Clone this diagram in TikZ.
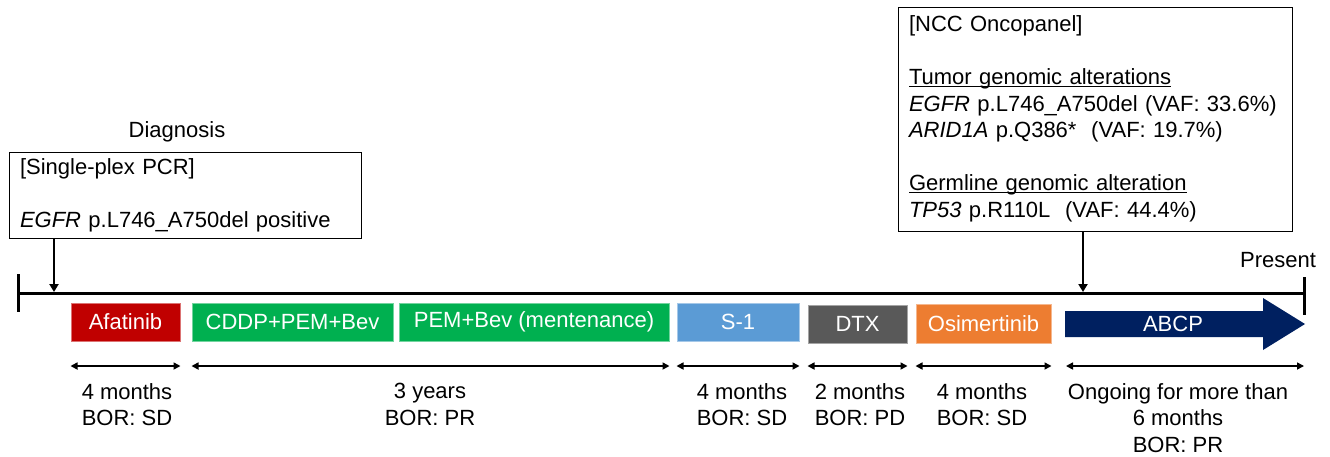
\documentclass[tikz,border=0pt]{standalone}
\usepackage{fontspec}
\setmainfont{Liberation Sans}
\usetikzlibrary{arrows.meta}
\definecolor{afared}{HTML}{C00000}
\definecolor{chemogreen}{HTML}{00B050}
\definecolor{soneblue}{HTML}{5B9BD5}
\definecolor{dtxgray}{HTML}{595959}
\definecolor{osiorange}{HTML}{ED7D31}
\definecolor{abcpnavy}{HTML}{002060}

\begin{document}
\begin{tikzpicture}[x=1pt,y=-1pt,
	every node/.append style={font=\fontsize{22}{26.5}\selectfont},
	therapy/.style={fill=#1,draw=#1!55!white,line width=1pt,text=white,minimum height=38pt,inner sep=0pt},
	infobox/.style={draw,line width=1pt,align=left,inner xsep=11pt,inner ysep=0pt},
	down/.style={line width=2pt,-{Triangle[length=8pt,width=9pt]}},
	span/.style={line width=1.6pt,{Triangle[length=7pt,width=7pt]}-{Triangle[length=7pt,width=7pt]}},
	note/.style={align=center,anchor=north,inner sep=0pt}]
		\useasboundingbox (0,0) rectangle (1330,456);
		\coordinate (start) at (18,293);
		\coordinate (now) at (1304,293);
		\draw[line width=3pt] (start) -- (now);
		\draw[line width=3pt] (18,274) -- (18,312);
		\draw[line width=3pt] (1304,277) -- (1304,315);
		\node (diag) at (177,132) {Diagnosis};
		\node (present) at (1278,260) {Present};
		\node[infobox,minimum height=86pt,text width=330pt] (pcr) at (185,195) {[Single-plex PCR]\\[26.5pt]\textit{EGFR} p.L746\_A750del positive};
		\node[infobox,minimum height=224pt,text width=372pt] (ncc) at (1095,119) {[NCC Oncopanel]\\[26.5pt]\underline{\smash{Tumor genomic alterations}}\\\textit{EGFR} p.L746\_A750del (VAF: 33.6\%)\\\textit{ARID1A} p.Q386*\ \ (VAF: 19.7\%)\\[26.5pt]\underline{\smash{Germline genomic alteration}}\\\textit{TP53} p.R110L\ \ (VAF: 44.4\%)};
		\coordinate (pcrhit) at (54,292);
		\coordinate (ncchit) at (1083,292);
		\draw[down] (pcr.south -| pcrhit) -- (pcrhit);
		\draw[down] (ncc.south -| ncchit) -- (ncchit);
		\node[therapy=afared,minimum width=109pt] (afa) at (125.5,322) {Afatinib};
		\node[therapy=chemogreen,minimum width=201pt] (cddp) at (292.5,322) {CDDP+PEM+Bev};
		\node[therapy=chemogreen,minimum width=270pt] (pem) at (534,322) {PEM+Bev (mentenance)};
		\node[therapy=soneblue,minimum width=122pt] (sone) at (738,322) {S-1};
		\node[therapy=dtxgray,minimum width=99pt] (dtx) at (857.5,324) {DTX};
		\node[therapy=osiorange,minimum width=135pt,minimum height=39pt] (osi) at (983.5,323.5) {Osimertinib};
		\fill[abcpnavy] (1065,311) -- (1263,311) -- (1263,298) -- (1305,324) -- (1263,350) -- (1263,337) -- (1065,337) -- cycle;
		\node[text=white] (abcp) at (1173,324) {ABCP};
		\coordinate (row) at (0,366);
		\coordinate (abcptail) at (1066,366);
		\coordinate (abcptip) at (1304,366);
		\draw[span] (afa.south west |- row) -- (afa.south east |- row);
		\draw[span] (cddp.south west |- row) -- (pem.south east |- row);
		\draw[span] (sone.south west |- row) -- (sone.south east |- row);
		\draw[span] (dtx.south west |- row) -- (dtx.south east |- row);
		\draw[span] (osi.south west |- row) -- (osi.south east |- row);
		\draw[span] (abcptail) -- (abcptip);
		\node[note] (afadur) at (127,383) {4 months\\BOR: SD};
		\node[note] (chemodur) at (430,383) {3 years\\BOR: PR};
		\node[note] (sonedur) at (742,383) {4 months\\BOR: SD};
		\node[note] (dtxdur) at (860,383) {2 months\\BOR: PD};
		\node[note] (osidur) at (982,383) {4 months\\BOR: SD};
		\node[note] (abcpdur) at (1178,383) {Ongoing for more than\\6 months\\BOR: PR};
\end{tikzpicture}
\end{document}
